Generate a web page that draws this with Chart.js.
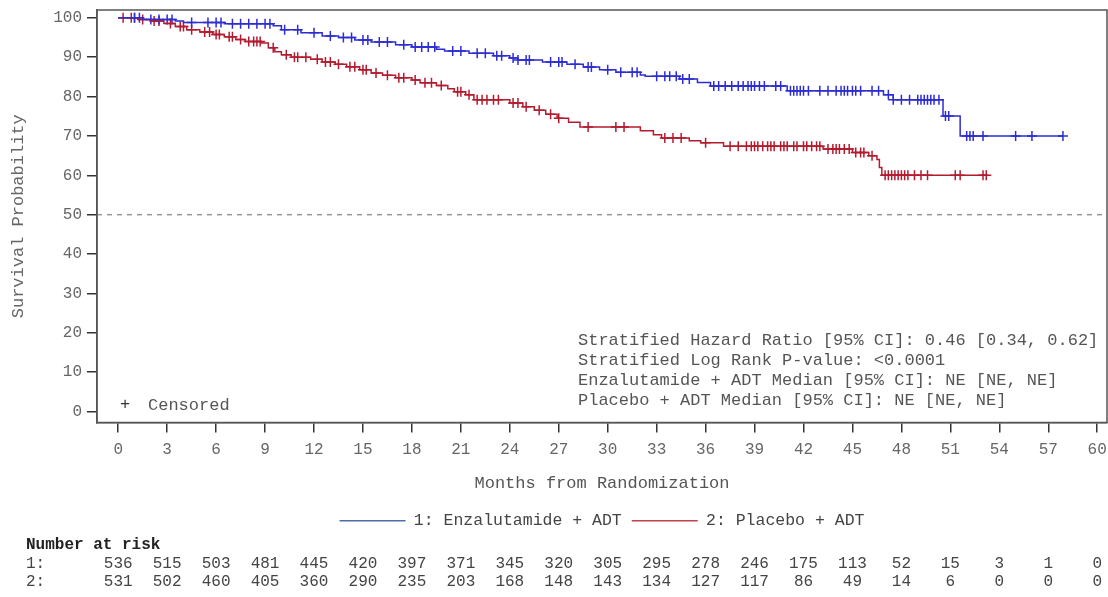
<!DOCTYPE html>
<html>
<head>
<meta charset="utf-8">
<script src="https://cdn.jsdelivr.net/npm/chart.js@4.4.1/dist/chart.umd.min.js"></script>
<style>
  html, body { margin: 0; padding: 0; background: #fff; }
</style>
</head>
<body>
<canvas id="km" width="1108" height="597"></canvas>
<script>
// x ticks (months) and y ticks
const months = [0, 3, 6, 9, 12, 15, 18, 21, 24, 27, 30, 33, 36, 39, 42, 45, 48, 51, 54, 57, 60];
const yTicks = [0, 10, 20, 30, 40, 50, 60, 70, 80, 90, 100];

// Enzalutamide + ADT: step times and survival after each step
const enzaTime = [0, 1.5, 3.5, 4.0, 6.5, 9.5, 10.0, 11.2, 12.5, 13.5, 14.5, 15.5, 17.0, 18.0, 19.5, 20.0, 21.5, 23.0, 24.0, 24.5, 26.0, 27.5, 28.5, 29.5, 30.5, 32.0, 32.3, 34.4, 35.5, 36.3, 41.0, 46.9, 47.5, 50.55, 51.6, 57.9];
const enzaSurv = [100, 99.6, 99.2, 98.8, 98.5, 98.0, 97.0, 96.2, 95.4, 95.0, 94.4, 93.9, 93.2, 92.6, 92.0, 91.6, 91.0, 90.4, 89.8, 89.3, 88.8, 88.2, 87.5, 86.8, 86.2, 85.5, 85.2, 84.5, 83.6, 82.7, 81.5, 80.5, 79.2, 75.1, 70.0, 70.0];

// Placebo + ADT
const placTime = [0, 1.2, 2.0, 2.8, 3.5, 4.2, 5.0, 5.8, 6.5, 7.2, 7.8, 8.8, 9.2, 9.6, 10.0, 10.6, 11.8, 12.5, 13.3, 14.0, 14.8, 15.5, 16.2, 17.0, 18.0, 18.5, 19.5, 20.2, 20.6, 21.3, 21.8, 24.0, 24.8, 25.5, 26.2, 26.9, 27.6, 28.3, 32.0, 32.8, 33.3, 35.0, 35.7, 37.1, 43.2, 45.0, 46.0, 46.5, 46.65, 46.8, 53.2];
const placSurv = [100, 99.6, 99.2, 98.6, 97.8, 97.0, 96.4, 95.8, 95.2, 94.5, 94.0, 93.6, 92.4, 91.4, 90.6, 90.0, 89.5, 88.8, 88.2, 87.6, 86.8, 86.0, 85.4, 84.8, 84.2, 83.5, 82.8, 82.0, 81.2, 80.5, 79.2, 78.4, 77.4, 76.5, 75.5, 74.5, 73.5, 72.3, 71.3, 70.3, 69.5, 68.8, 68.3, 67.4, 66.7, 65.8, 65.0, 64.0, 62.0, 60.0, 60.0];

// censoring times
const enzaCens = [1, 1.3, 2, 2.5, 3, 3.3, 4.5, 5.5, 6, 6.3, 7, 7.5, 8, 8.5, 9, 9.3, 10.2, 11, 12, 13, 13.8, 14.3, 15, 15.3, 16, 16.5, 17.5, 18.2, 18.6, 19, 19.4, 20.5, 21, 22, 22.5, 23.2, 23.5, 24.2, 24.5, 25, 25.2, 26.5, 27, 27.2, 28, 28.8, 29, 30, 30.8, 31.5, 31.8, 33, 33.5, 33.8, 34.2, 34.6, 35, 36.5, 36.8, 37.2, 37.6, 38, 38.3, 38.6, 38.8, 39, 39.3, 39.6, 40.3, 40.6, 41.2, 41.4, 41.6, 41.8, 42, 42.3, 43, 43.5, 44, 44.3, 44.5, 44.7, 45, 45.2, 45.5, 46.2, 46.6, 47.2, 47.5, 48, 48.5, 49, 49.2, 49.4, 49.6, 49.8, 50, 50.3, 50.7, 50.9, 52, 52.2, 52.4, 53, 55, 56, 57.9];
const placCens = [0.3, 0.8, 1, 1.5, 2.2, 2.5, 3.2, 3.8, 4, 4.5, 5.3, 5.6, 6, 6.2, 6.8, 7, 7.5, 8, 8.3, 8.5, 8.7, 9.5, 10.3, 10.8, 11, 11.5, 12.2, 12.7, 13, 13.5, 14.2, 14.5, 15, 15.2, 15.8, 16.5, 17.2, 17.5, 18.2, 18.8, 19.2, 19.8, 20.8, 21, 21.5, 22, 22.3, 22.6, 23, 23.3, 24.2, 24.5, 25, 25.8, 26.5, 27, 28.8, 30.5, 31, 33.5, 34, 34.5, 36, 37.5, 38, 38.5, 38.8, 39, 39.2, 39.5, 39.8, 40, 40.2, 40.6, 40.8, 41, 41.4, 41.6, 42, 42.2, 42.5, 42.8, 43, 43.5, 43.8, 44, 44.2, 44.5, 44.8, 45.2, 45.5, 45.7, 46.2, 47, 47.2, 47.4, 47.6, 47.8, 48, 48.2, 48.4, 48.8, 49.2, 49.6, 51.3, 51.6, 53, 53.2];

// number at risk at each month tick
const riskEnza = [536, 515, 503, 481, 445, 420, 397, 371, 345, 320, 305, 295, 278, 246, 175, 113, 52, 15, 3, 1, 0];
const riskPlac = [531, 502, 460, 405, 360, 290, 235, 203, 168, 148, 143, 134, 127, 117, 86, 49, 14, 6, 0, 0, 0];

const statLines = [
  'Stratified Hazard Ratio [95% CI]: 0.46 [0.34, 0.62]',
  'Stratified Log Rank P-value: <0.0001',
  'Enzalutamide + ADT Median [95% CI]: NE [NE, NE]',
  'Placebo + ADT Median [95% CI]: NE [NE, NE]'
];

const BLUE = '#2d2dd2';
const RED = '#b31b2f';
const MONO = '"Liberation Mono", "Courier New", monospace';

function stepPoints(t, s) {
  return t.map((v, i) => ({ x: v, y: s[i] }));
}
function survAt(t, s, x) {
  let v = s[0];
  for (let i = 0; i < t.length; i++) if (t[i] <= x) v = s[i];
  return v;
}
function censPoints(c, t, s) {
  return c.map(x => ({ x: x, y: survAt(t, s, x) }));
}

const extras = {
  id: 'extras',
  beforeDatasetsDraw(chart) {
    const { ctx, chartArea: a, scales } = chart;
    const y50 = scales.y.getPixelForValue(50);
    ctx.save();
    ctx.strokeStyle = '#999';
    ctx.lineWidth = 1.5;
    ctx.setLineDash([5, 5]);
    ctx.beginPath();
    ctx.moveTo(a.left, y50);
    ctx.lineTo(a.right, y50);
    ctx.stroke();
    ctx.restore();
  },
  afterDraw(chart) {
    const { ctx, chartArea: a, scales } = chart;
    ctx.save();
    // frame
    ctx.strokeStyle = '#555';
    ctx.lineWidth = 1.5;
    ctx.strokeRect(a.left, a.top, a.right - a.left, a.bottom - a.top);

    ctx.font = '17px ' + MONO;
    ctx.fillStyle = '#555';
    ctx.textBaseline = 'middle';
    ctx.textAlign = 'left';
    statLines.forEach((l, i) => ctx.fillText(l, 578, 340 + i * 20));

    // censored key
    ctx.fillStyle = '#333';
    ctx.fillText('+', 120, 404);
    ctx.fillStyle = '#555';
    ctx.fillText('Censored', 148, 405);

    // risk table
    ctx.fillStyle = '#222';
    ctx.font = 'bold 16px ' + MONO;
    ctx.fillText('Number at risk', 26, 545);
    ctx.font = '16px ' + MONO;
    ctx.fillStyle = '#444';
    ctx.fillText('1:', 26, 564);
    ctx.fillText('2:', 26, 582);
    ctx.textAlign = 'center';
    months.forEach((m, i) => {
      const x = scales.x.getPixelForValue(m);
      ctx.fillText(String(riskEnza[i]), x, 564);
      ctx.fillText(String(riskPlac[i]), x, 582);
    });
    ctx.restore();
  }
};

new Chart(document.getElementById('km'), {
  type: 'line',
  data: {
    datasets: [
      {
        label: '1: Enzalutamide + ADT',
        data: stepPoints(enzaTime, enzaSurv),
        borderColor: BLUE,
        borderWidth: 1.5,
        stepped: true,
        pointRadius: 0,
        fill: false
      },
      {
        label: '2: Placebo + ADT',
        data: stepPoints(placTime, placSurv),
        borderColor: RED,
        borderWidth: 1.5,
        stepped: true,
        pointRadius: 0,
        fill: false
      },
      {
        label: 'censE',
        data: censPoints(enzaCens, enzaTime, enzaSurv),
        showLine: false,
        pointStyle: 'cross',
        pointRadius: 5,
        pointBorderWidth: 1.5,
        borderColor: BLUE,
        pointBorderColor: BLUE
      },
      {
        label: 'censP',
        data: censPoints(placCens, placTime, placSurv),
        showLine: false,
        pointStyle: 'cross',
        pointRadius: 5,
        pointBorderWidth: 1.5,
        borderColor: RED,
        pointBorderColor: RED
      }
    ]
  },
  options: {
    responsive: false,
    animation: false,
    layout: { autoPadding: false, padding: { top: 10, right: 1, left: 0, bottom: 58 } },
    plugins: {
      tooltip: { enabled: false },
      legend: {
        position: 'bottom',
        fullSize: false,
        labels: {
          filter: item => item.datasetIndex < 2,
          usePointStyle: true,
          pointStyle: 'line',
          pointStyleWidth: 66,
          padding: 10,
          color: '#444',
          font: { family: MONO, size: 16.5 },
          generateLabels(chart) {
            const cols = ['#4a6ea8', '#c0404c'];
            return chart.data.datasets.slice(0, 2).map((d, i) => ({
              text: d.label,
              strokeStyle: cols[i],
              fillStyle: cols[i],
              lineWidth: 1.5,
              pointStyle: 'line',
              datasetIndex: i,
              fontColor: '#444'
            }));
          }
        }
      }
    },
    scales: {
      x: {
        type: 'linear',
        min: -1.3,
        max: 60.6,
        afterFit(s) { s.height = 80; s.paddingLeft = 0; s.paddingRight = 0; },
        afterBuildTicks(s) { s.ticks = months.map(v => ({ value: v })); },
        grid: { drawOnChartArea: false, drawTicks: true, tickLength: 10, color: '#333', lineWidth: 1.5 },
        border: { display: true, color: '#555', width: 1.5 },
        ticks: { color: '#666', padding: 8, maxRotation: 0, font: { family: MONO, size: 16 } },
        title: { display: true, text: 'Months from Randomization', color: '#555', padding: { top: 4, bottom: 9 }, font: { family: MONO, size: 17 } }
      },
      y: {
        min: -2.8,
        max: 102,
        afterFit(s) { s.width = 97; s.paddingTop = 0; s.paddingBottom = 0; },
        afterBuildTicks(s) { s.ticks = yTicks.map(v => ({ value: v })); },
        grid: { drawOnChartArea: false, drawTicks: true, tickLength: 10, color: '#333', lineWidth: 1.5 },
        border: { display: true, color: '#555', width: 1.5 },
        ticks: { color: '#666', padding: 5, font: { family: MONO, size: 16 } },
        title: { display: true, text: 'Survival Probability', color: '#666', padding: { top: 8, bottom: 0 }, font: { family: MONO, size: 17 } }
      }
    }
  },
  plugins: [extras]
});
</script>
</body>
</html>
